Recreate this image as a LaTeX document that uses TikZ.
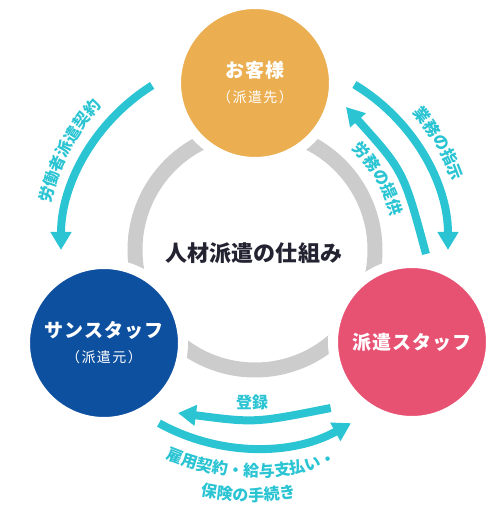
\documentclass[tikz,border=0pt]{standalone}
\usepackage{fontspec}
\usepackage{xcolor}
\usepackage{tikz}
\usetikzlibrary{arrows.meta,decorations.text}
\newfontfamily\jpfont{Noto Sans CJK JP}
\newfontfamily\jpwide{Noto Sans CJK JP}[LetterSpace=5]
\newfontfamily\jpwider{Noto Sans CJK JP}[LetterSpace=10]
\definecolor{kyakuorange}{RGB}{235,174,80}
\definecolor{motoblue}{RGB}{14,80,160}
\definecolor{staffpink}{RGB}{232,82,114}
\definecolor{ringgray}{RGB}{204,204,204}
\definecolor{flowcyan}{RGB}{42,196,211}
\definecolor{titleink}{RGB}{35,35,50}
\newcommand\flowfont{\jpfont\bfseries\fontsize{16}{16}\selectfont\color{flowcyan}}
\newcommand\subfont{\jpwider\mdseries\fontsize{14}{14}\selectfont}
\tikzset{
  party/.style={circle, draw=white, line width=10pt, minimum size=158pt, inner sep=0pt,
    text=white, align=center, font=\jpwide\bfseries\fontsize{19}{22}\selectfont},
  flowarrow/.style={draw=flowcyan, line width=8pt, -{Triangle[length=18pt,width=20pt]}},
  flowtext/.style={decorate, decoration={text along path, text align=center, text={|\flowfont|#1}}}
}

\begin{document}
\begin{tikzpicture}[x=1pt,y=1pt]
\useasboundingbox (-255,-263) rectangle (240,250);
\node[circle, draw=ringgray, line width=15pt, minimum size=240pt] (ring) at (0,0) {};
\node[text=titleink, font=\jpfont\bfseries\fontsize{22}{22}\selectfont] (title) at (-1,-3) {人材派遣の仕組み};
\node[party, fill=kyakuorange] (kyaku) at (0,167) {お客様\\[3pt]{\subfont （派遣先）}};
\node[party, fill=motoblue] (moto) at (-151,-93) {サンスタッフ\\[3pt]{\subfont （派遣元）}};
\node[party, fill=staffpink] (staff) at (157,-92) {派遣スタッフ};
\coordinate (keiyaku) at (122:194);
\coordinate (shiji) at (59:193);
\coordinate (teikyo) at (171,-4);
\coordinate (teikyo-c) at (148.7,78.9);
\coordinate (teikyo-t) at (91,143);
\coordinate (toroku) at (75.7,-158);
\coordinate (toroku-c) at (0,-173);
\coordinate (toroku-t) at (-77,-163);
\coordinate (koyo) at (241:198);
\draw[flowarrow] (keiyaku) arc[start angle=122, end angle=180, radius=194];
\draw[flowarrow] (shiji) arc[start angle=59, end angle=0, radius=193];
\draw[flowarrow] (teikyo) .. controls (teikyo-c) .. (teikyo-t);
\draw[flowarrow] (toroku) .. controls (toroku-c) .. (toroku-t);
\draw[flowarrow] (koyo) arc[start angle=241, end angle=299, radius=198];
\path[flowtext={労働者派遣契約}] (175:210) arc[start angle=175, end angle=129, radius=210];
\path[flowtext={業務の指示}] (55:209) arc[start angle=55, end angle=5, radius=209];
\path[flowtext={労務の提供}] (60:140) arc[start angle=60, end angle=0, radius=140];
\path[flowtext={雇用契約・給与支払い・}] (238:227) arc[start angle=238, end angle=300, radius=227];
\path[flowtext={保険の手続き}] (238:251) arc[start angle=238, end angle=299, radius=251];
\node[text=flowcyan, font=\jpfont\bfseries\fontsize{16}{16}\selectfont] (torokulabel) at (-3,-152) {登録};
\end{tikzpicture}
\end{document}
